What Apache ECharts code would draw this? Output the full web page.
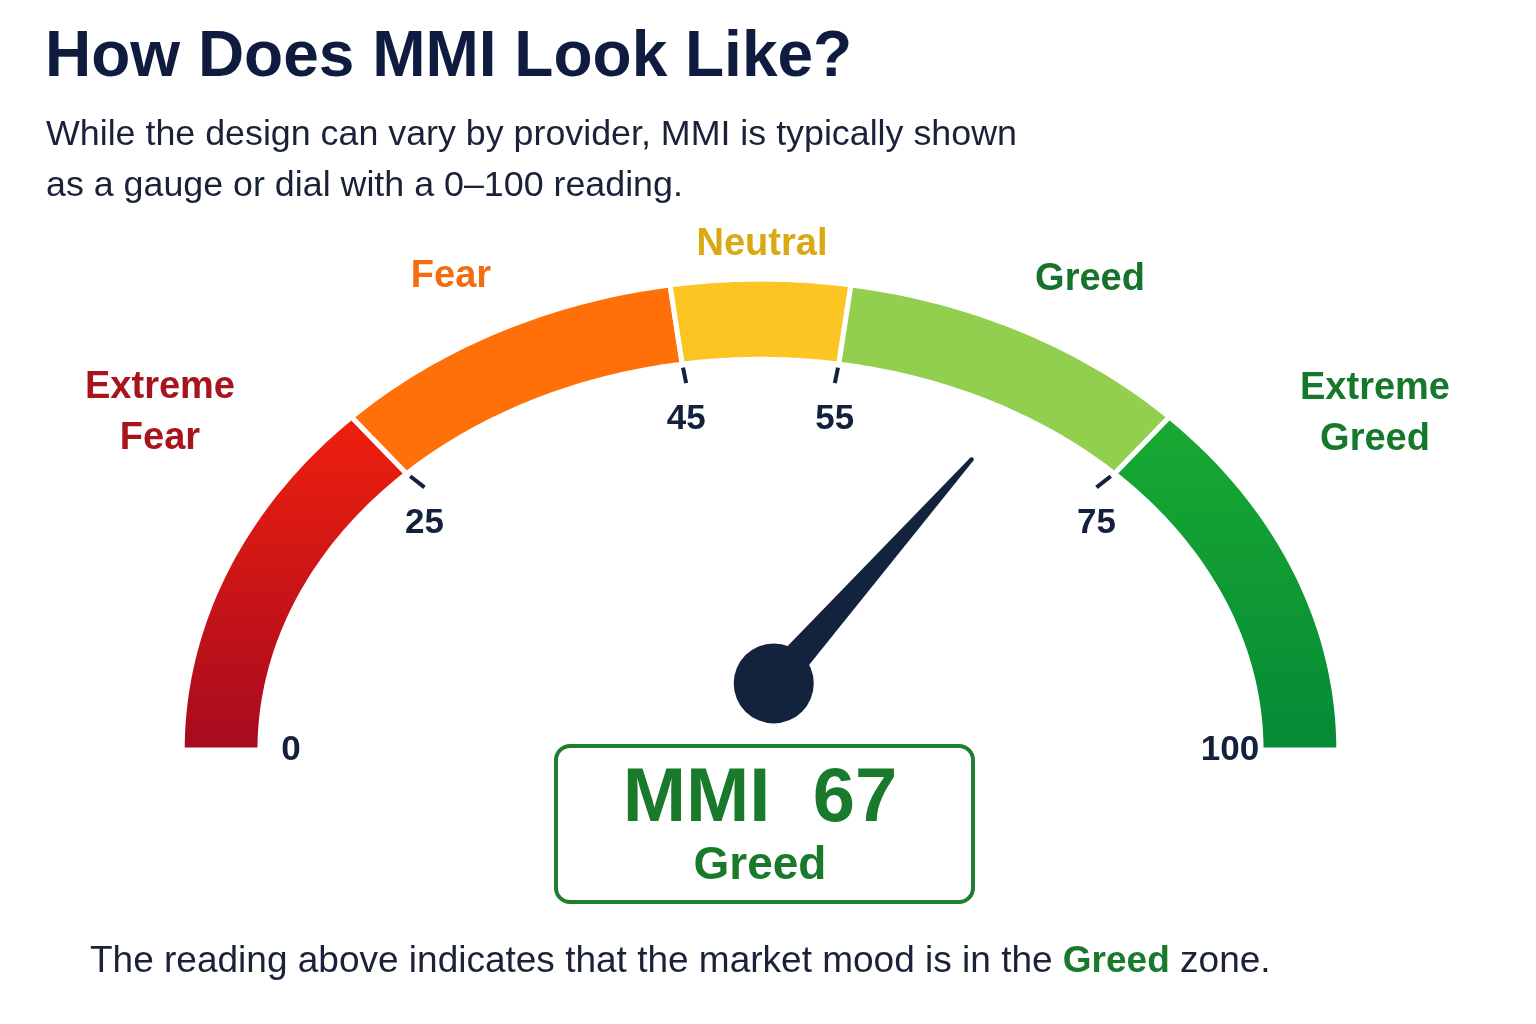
<!DOCTYPE html>
<html>
<head>
<meta charset="utf-8">
<title>MMI gauge</title>
<script src="https://cdn.jsdelivr.net/npm/echarts@6/dist/echarts.min.js"></script>
<style>
  html, body { margin: 0; padding: 0; background: #fff; }
  #chart { width: 1536px; height: 1024px; }
</style>
</head>
<body>
<div id="chart"></div>
<script>
// dial zones, 0-100 scale
const zoneNames = ['Extreme Fear', 'Fear', 'Neutral', 'Greed', 'Extreme Greed']
const zoneStart = [0, 25, 45, 55, 75]
const zoneEnd = [25, 45, 55, 75, 100]
const tickValues = [0, 25, 45, 55, 75, 100]
const mmiValue = 67

const font = '"Liberation Sans", Arial, sans-serif'
const ink = '#14213d'

const zoneFill = [
  new echarts.graphic.LinearGradient(0, 0, 0, 1, [{ offset: 0, color: '#f01f0e' }, { offset: 1, color: '#a50b1f' }]),
  '#ff7108',
  '#fdc524',
  '#93cf4f',
  new echarts.graphic.LinearGradient(0, 0, 0, 1, [{ offset: 0, color: '#19aa32' }, { offset: 1, color: '#058936' }])
]
const zoneColor = ['#a8141c', '#f46c10', '#daa812', '#17722b', '#15782c']

// band of the dial in axis units (outer edge = unit ellipse)
const IN_X = 0.873
const IN_Y = 0.838

function pt (v, rx, ry) {
  const a = Math.PI * (1 - v / 100)
  return [Math.cos(a) * rx, Math.sin(a) * (ry === undefined ? rx : ry)]
}

const chart = echarts.init(document.getElementById('chart'))

const currentZone = zoneNames[zoneEnd.findIndex(e => mmiValue < e)]

chart.setOption({
  backgroundColor: '#fff',
  animation: false,
  grid: { left: 184.5, right: 199.5, top: 281, bottom: 274 },
  xAxis: { type: 'value', min: -1, max: 1, show: false },
  yAxis: { type: 'value', min: 0, max: 1, show: false },
  series: [
    {
      // coloured zones
      type: 'custom',
      data: zoneStart.map((s, i) => [s, zoneEnd[i]]),
      renderItem (params, api) {
        const s = api.value(0)
        const e = api.value(1)
        const n = 48
        const pts = []
        for (let i = 0; i <= n; i++) pts.push(api.coord(pt(s + (e - s) * i / n, 1.004)))
        for (let i = n; i >= 0; i--) pts.push(api.coord(pt(s + (e - s) * i / n, IN_X - 0.004, IN_Y - 0.005)))
        return {
          type: 'polygon',
          shape: { points: pts },
          style: { fill: zoneFill[params.dataIndex], stroke: '#fff', lineWidth: 5 }
        }
      }
    },
    {
      // small ticks at the zone boundaries
      type: 'custom',
      data: zoneStart.slice(1).map(v => [v]),
      renderItem (params, api) {
        const v = api.value(0)
        const p1 = api.coord(pt(v, IN_X * 0.985, IN_Y * 0.985))
        const p2 = api.coord(pt(v, IN_X * 0.945, IN_Y * 0.945))
        return {
          type: 'line',
          shape: { x1: p1[0], y1: p1[1], x2: p2[0], y2: p2[1] },
          style: { stroke: ink, lineWidth: 4 }
        }
      }
    },
    {
      // tick labels, hung just below the tick ends
      type: 'custom',
      data: tickValues.map(v => [v]),
      renderItem (params, api) {
        const v = api.value(0)
        const end = v === 0 || v === 100
        const p = end ? api.coord(pt(v, 0.815)) : api.coord(pt(v, IN_X * 0.945, IN_Y * 0.945))
        return {
          type: 'text',
          x: p[0],
          y: end ? p[1] : p[1] + 36,
          style: {
            text: String(v),
            font: 'bold 35px ' + font,
            fill: ink,
            align: 'center',
            verticalAlign: 'middle'
          }
        }
      }
    },
    {
      // needle
      type: 'custom',
      data: [[mmiValue]],
      z: 5,
      renderItem (params, api) {
        const v = api.value(0)
        const c = api.coord([0.023, 0.142])
        const tip = api.coord(pt(v, 0.72))
        const dx = tip[0] - c[0]
        const dy = tip[1] - c[1]
        const len = Math.sqrt(dx * dx + dy * dy)
        const px = -dy / len
        const py = dx / len
        return {
          type: 'group',
          children: [
            {
              type: 'polygon',
              shape: {
                points: [
                  [c[0] + px * 16, c[1] + py * 16],
                  [tip[0] + px * 2.2, tip[1] + py * 2.2],
                  [tip[0] - px * 2.2, tip[1] - py * 2.2],
                  [c[0] - px * 16, c[1] - py * 16]
                ]
              },
              style: { fill: '#14233d' }
            },
            { type: 'circle', shape: { cx: tip[0], cy: tip[1], r: 2.2 }, style: { fill: '#14233d' } },
            { type: 'circle', shape: { cx: c[0], cy: c[1], r: 40 }, style: { fill: '#14233d' } }
          ]
        }
      }
    }
  ],
  graphic: [
    {
      type: 'text', x: 45, y: 58,
      style: { text: 'How Does MMI Look Like?', font: 'bold 64px ' + font, fill: '#0f1c3f', verticalAlign: 'middle' }
    },
    {
      type: 'text', x: 46, y: 135,
      style: { text: 'While the design can vary by provider, MMI is typically shown', font: '35.8px ' + font, fill: '#1a2238', verticalAlign: 'middle' }
    },
    {
      type: 'text', x: 46, y: 186,
      style: { text: 'as a gauge or dial with a 0\u2013100 reading.', font: '35.8px ' + font, fill: '#1a2238', verticalAlign: 'middle' }
    },
    // zone names round the dial
    ...[[160, 413], [451, 277], [762, 245], [1090, 280], [1375, 414]].map((p, i) => ({
      type: 'text',
      x: p[0],
      y: p[1],
      style: {
        text: zoneNames[i].replace(' ', '\n'),
        font: 'bold 38px ' + font,
        lineHeight: 51,
        fill: zoneColor[i],
        align: 'center',
        verticalAlign: 'middle'
      }
    })),
    // reading box
    {
      type: 'rect',
      shape: { x: 556, y: 746, width: 417, height: 156, r: 14 },
      style: { fill: '#fff', stroke: '#1e7f2f', lineWidth: 4 }
    },
    {
      type: 'text', x: 760, y: 800,
      style: { text: 'MMI  ' + mmiValue, font: 'bold 76px ' + font, fill: '#1a7a2b', align: 'center', verticalAlign: 'middle' }
    },
    {
      type: 'text', x: 760, y: 866,
      style: { text: currentZone, font: 'bold 46px ' + font, fill: '#1a7a2b', align: 'center', verticalAlign: 'middle' }
    },
    {
      type: 'text', x: 90, y: 962,
      style: {
        text: '{a|The reading above indicates that the market mood is in the }{g|' + currentZone + '}{a| zone.}',
        verticalAlign: 'middle',
        rich: {
          a: { font: '37px ' + font, fill: '#1a2238' },
          g: { font: 'bold 37px ' + font, fill: '#1a7a2b' }
        }
      }
    }
  ]
})
</script>
</body>
</html>
